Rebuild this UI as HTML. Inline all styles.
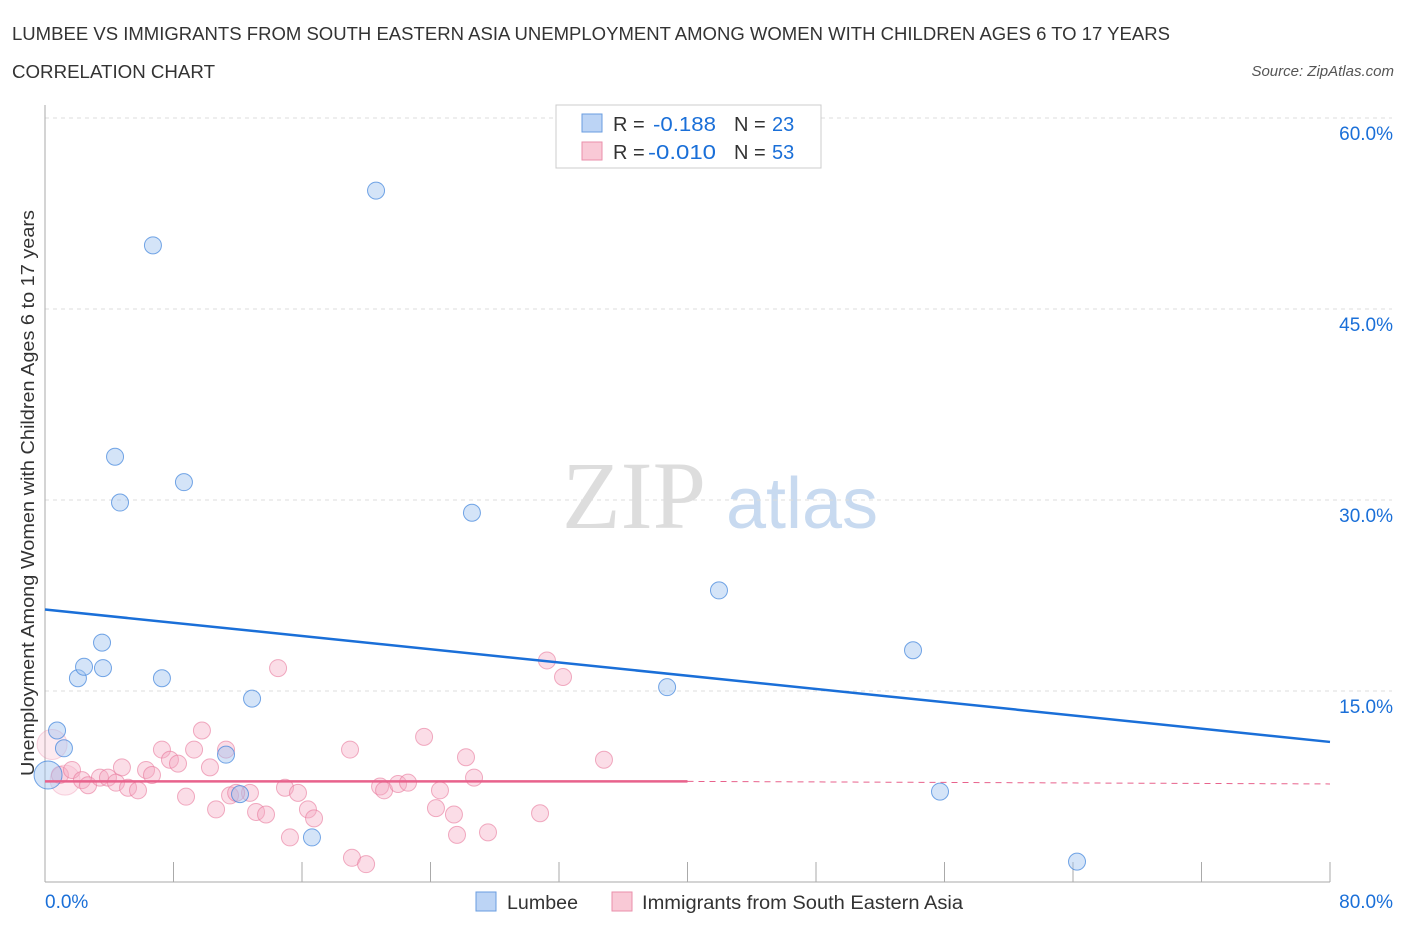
<!DOCTYPE html>
<html><head><meta charset="utf-8"><style>
body{margin:0;background:#fff;font-family:"Liberation Sans",sans-serif}
</style></head><body>
<svg id="c" width="1406" height="930" font-family="Liberation Sans, sans-serif">
<text x="12" y="40" font-size="18" fill="#333" textLength="1158" lengthAdjust="spacingAndGlyphs">LUMBEE VS IMMIGRANTS FROM SOUTH EASTERN ASIA UNEMPLOYMENT AMONG WOMEN WITH CHILDREN AGES 6 TO 17 YEARS</text>
<text x="12" y="78" font-size="18" fill="#333" textLength="203" lengthAdjust="spacingAndGlyphs">CORRELATION CHART</text>
<text x="1394" y="76" font-size="15" fill="#555" font-style="italic" text-anchor="end">Source: ZipAtlas.com</text>
<text x="634" y="528" font-size="96" fill="#ddd" style="font-family:'Liberation Serif',serif" text-anchor="middle">ZIP</text>
<text x="802" y="528" font-size="72" fill="#c8daf0" text-anchor="middle">atlas</text>
<text transform="translate(34,493) rotate(-90)" font-size="18" fill="#333" text-anchor="middle" textLength="566" lengthAdjust="spacingAndGlyphs">Unemployment Among Women with Children Ages 6 to 17 years</text>
<g id="grid"></g><g id="marks"></g>
<g>
<rect x="556" y="105" width="265" height="63" fill="#fff" stroke="#ccc"/>
<rect x="582" y="114" width="20" height="18" fill="#bcd4f5" stroke="#6a9de0"/>
<text x="613" y="131" font-size="20" fill="#333">R = </text><text x="653" y="131" font-size="20" fill="#1a6fd8" textLength="63" lengthAdjust="spacingAndGlyphs">-0.188</text>
<text x="734" y="131" font-size="20" fill="#333">N = </text><text x="772" y="131" font-size="20" fill="#1a6fd8">23</text>
<rect x="582" y="142" width="20" height="18" fill="#f9c9d6" stroke="#ea8fab"/>
<text x="613" y="159" font-size="20" fill="#333">R = </text><text x="648" y="159" font-size="20" fill="#1a6fd8" textLength="68" lengthAdjust="spacingAndGlyphs">-0.010</text>
<text x="734" y="159" font-size="20" fill="#333">N = </text><text x="772" y="159" font-size="20" fill="#1a6fd8">53</text>
</g>
<g>
<rect x="476" y="892" width="20" height="19" fill="#bcd4f5" stroke="#6a9de0"/>
<text x="507" y="909" font-size="19" fill="#333" textLength="71" lengthAdjust="spacingAndGlyphs">Lumbee</text>
<rect x="612" y="892" width="20" height="19" fill="#f9c9d6" stroke="#ea8fab"/>
<text x="642" y="909" font-size="19" fill="#333" textLength="321" lengthAdjust="spacingAndGlyphs">Immigrants from South Eastern Asia</text>
</g>
</svg>
<script>
const blueX=[0.19,0.75,1.18,2.05,2.43,3.55,3.61,4.36,4.67,6.72,7.28,8.65,11.27,12.14,12.89,16.62,20.61,26.58,38.73,41.96,54.04,55.72,64.25];
const blueY=[8.4,11.9,10.5,16.0,16.9,18.8,16.8,33.4,29.8,50.0,16.0,31.4,10.0,6.9,14.4,3.5,54.3,29.0,15.3,22.9,18.2,7.1,1.6];
const pinkX=[0.44,0.93,1.25,1.68,2.30,2.68,3.42,3.92,4.42,4.79,5.17,5.79,6.29,6.66,7.28,7.78,8.28,8.78,9.28,9.77,10.27,10.65,11.27,11.52,12.76,13.14,13.76,14.51,14.94,15.25,15.75,16.37,16.75,18.99,19.11,19.99,20.86,21.11,21.98,22.60,23.60,24.34,24.59,25.46,25.65,26.21,26.71,27.58,30.82,31.25,32.25,34.80,11.9];
const pinkY=[10.8,8.4,8.0,8.8,8.0,7.6,8.2,8.2,7.8,9.0,7.4,7.2,8.8,8.4,10.4,9.6,9.3,6.7,10.4,11.9,9.0,5.7,10.4,6.8,7.0,5.5,5.3,16.8,7.4,3.5,7.0,5.7,5.0,10.4,1.9,1.4,7.5,7.2,7.7,7.8,11.4,5.8,7.2,5.3,3.7,9.8,8.2,3.9,5.4,17.4,16.1,9.6,7.0];
const yTicks=[15,30,45,60];
const yTickLabels=["15.0%","30.0%","45.0%","60.0%"];
const xTicks=[0,8,16,24,32,40,48,56,64,72,80];
const blueTrend=[21.4,11.0];
const pinkTrend=[7.9,7.9,7.7];
const X=v=>45+v/80*1285, Y=v=>882-v/15*191;
const NS="http://www.w3.org/2000/svg";
const g=document.getElementById('grid'), m=document.getElementById('marks');
function el(t,a,p){const e=document.createElementNS(NS,t);for(const k in a)e.setAttribute(k,a[k]);p.appendChild(e);return e;}
yTicks.forEach((t,i)=>{
 const l=el('line',{x1:45,x2:1392,y1:Y(t),y2:Y(t),stroke:'#ddd','stroke-dasharray':'4,4'},g);
 
 
 const tx=el('text',{x:1393,y:Y(t)+22,'font-size':19,fill:'#1a6fd8','text-anchor':'end'},g);tx.textContent=yTickLabels[i];
 
 
});
el('line',{x1:45,x2:45,y1:105,y2:882,stroke:'#aaa'},g);
el('line',{x1:45,x2:1330,y1:882,y2:882,stroke:'#aaa'},g);
xTicks.forEach(t=>{const l=el('line',{x1:X(t),x2:X(t),y1:862,y2:882,stroke:'#aaa'},g);
 
 });
let a=el('text',{x:45,y:908,'font-size':19,fill:'#1a6fd8'},g);a.textContent='0.0%';


a=el('text',{x:1393,y:908,'font-size':19,fill:'#1a6fd8','text-anchor':'end'},g);a.textContent='80.0%';


pinkX.forEach((x,i)=>{const big=i==0||i==2;const c=el('circle',{cx:X(x),cy:Y(pinkY[i]),r:big?15:8.5,fill:big?'rgba(246,170,195,0.25)':'rgba(246,170,195,0.4)',stroke:big?'rgba(232,120,155,0.3)':'rgba(232,120,155,0.6)'},m);
 
 });
blueX.forEach((x,i)=>{const c=el('circle',{cx:X(x),cy:Y(blueY[i]),r:i==0?14:8.5,fill:'rgba(160,195,240,0.45)',stroke:'rgba(60,130,220,0.7)'},m);
 
 });
let t=el('line',{x1:X(0),y1:Y(blueTrend[0]),x2:X(80),y2:Y(blueTrend[1]),stroke:'#1a6fd8','stroke-width':2.5},m);


t=el('line',{x1:X(0),y1:Y(pinkTrend[0]),x2:X(40),y2:Y(pinkTrend[1]),stroke:'#e8628c','stroke-width':2.5},m);


t=el('line',{x1:X(40),y1:Y(pinkTrend[1]),x2:X(80),y2:Y(pinkTrend[2]),stroke:'#e8628c','stroke-width':1,'stroke-dasharray':'6,5'},m);


</script>
</body></html>
